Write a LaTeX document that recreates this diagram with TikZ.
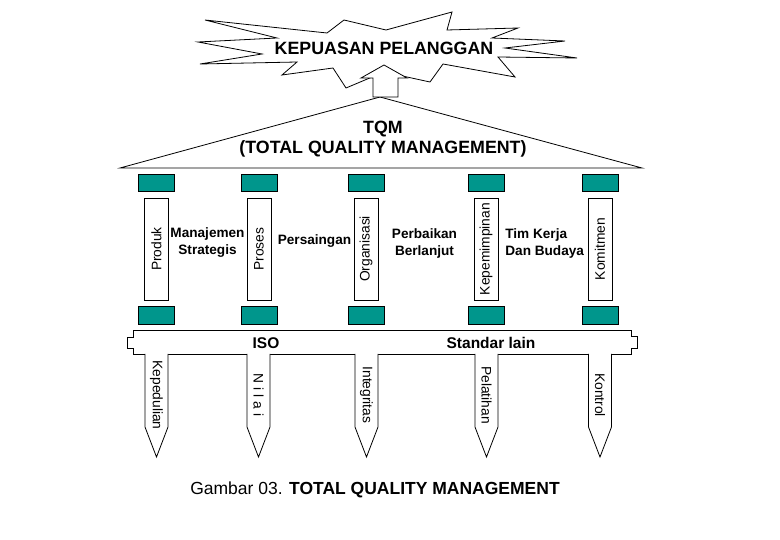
\documentclass[tikz,border=0pt]{standalone}
\usepackage{fontspec}
\setmainfont{Liberation Sans}
\definecolor{tealcol}{RGB}{0,150,140}
\begin{document}
\begin{tikzpicture}[x=1pt,y=-1pt,line width=0.8pt,
  tealcap/.style={draw,fill=tealcol,minimum width=36,minimum height=17.5,inner sep=0},
  pillarbox/.style={draw,fill=white,rotate=90,minimum width=102,minimum height=24,inner sep=0,font=\fontsize{13.8}{15}\selectfont},
  pegtext/.style={rotate=-90,inner sep=0,font=\fontsize{13.8}{15}\selectfont},
  between/.style={font=\fontsize{13.6}{17}\selectfont\bfseries,inner sep=0},
  bigtitle/.style={font=\fontsize{17.8}{19.5}\selectfont\bfseries,inner sep=0,align=center}]
\useasboundingbox (0,0) rectangle (780,540);
% star
\draw[fill=white] (205,20) -- (327,33) -- (344,20) -- (386,30) -- (452,12) -- (447,30) -- (518,28) -- (492,38) -- (565,41) -- (505,48) -- (577,58) -- (498,57) -- (515,77) -- (443,64) -- (430,82) -- (384,72) -- (346,88) -- (333,68) -- (282,75) -- (297,62) -- (200,64) -- (262,54) -- (198,42) -- (277,38) -- cycle;
\node[bigtitle] (goal) at (384,48) {KEPUASAN PELANGGAN};
% roof
\draw (120,168) -- (380,97) -- (642,168) -- cycle;
% arrow
\draw[fill=white] (373,97) -- (373,78) -- (361,78) -- (384,65) -- (407,78) -- (398,78) -- (398,97) -- cycle;
\node[bigtitle] (tqm) at (383,139) {TQM\\(TOTAL QUALITY MANAGEMENT)};
% pillars
\foreach \n/\x/\t in {1/156.5/Produk,2/259/Proses,3/366/Organisasi,4/486/Kepemimpinan,5/600/Komitmen}{
  \node[tealcap] (top\n) at (\x,183) {};
  \node[tealcap] (bot\n) at (\x,315.5) {};
  \node[pillarbox] (pil\n) at (\x,249) {\t};
}
\node[between,align=center] (l1) at (207.5,243) {Manajemen\\Strategis};
\node[between] (l2) at (314.5,241) {Persaingan};
\node[between,align=center] (l3) at (424.5,243) {Perbaikan\\Berlanjut};
\node[between,align=left,anchor=west] (l4) at (505,243) {Tim Kerja\\Dan Budaya};
% bar
\draw[fill=white] (133,330) -- (631,330) -- (631,336) -- (637,336) -- (637,348) -- (631,348) -- (631,354) -- (133,354) -- (133,348) -- (127,348) -- (127,337) -- (133,337) -- cycle;
\node[font=\fontsize{15.5}{17}\selectfont\bfseries,inner sep=0] (iso) at (266,343) {ISO};
\node[font=\fontsize{15.5}{17}\selectfont\bfseries,inner sep=0] (std) at (491,343) {Standar lain};
% pegs
\foreach \n/\x/\t in {1/156.5/Kepedulian,2/258.5/{N i l a i},3/366.5/Integritas,4/486.5/Pelatihan,5/600/Kontrol}{
  \draw[fill=white] (\x-11.5,354) -- (\x-11.5,427) -- (\x,457) -- (\x+11.5,427) -- (\x+11.5,354);
  \node[pegtext] (peg\n) at (\x,395) {\t};
}
\node[font=\fontsize{17.5}{20}\selectfont,inner sep=0] (cap) at (375,490) {Gambar 03. \textbf{TOTAL QUALITY MANAGEMENT}};
\end{tikzpicture}
\end{document}
